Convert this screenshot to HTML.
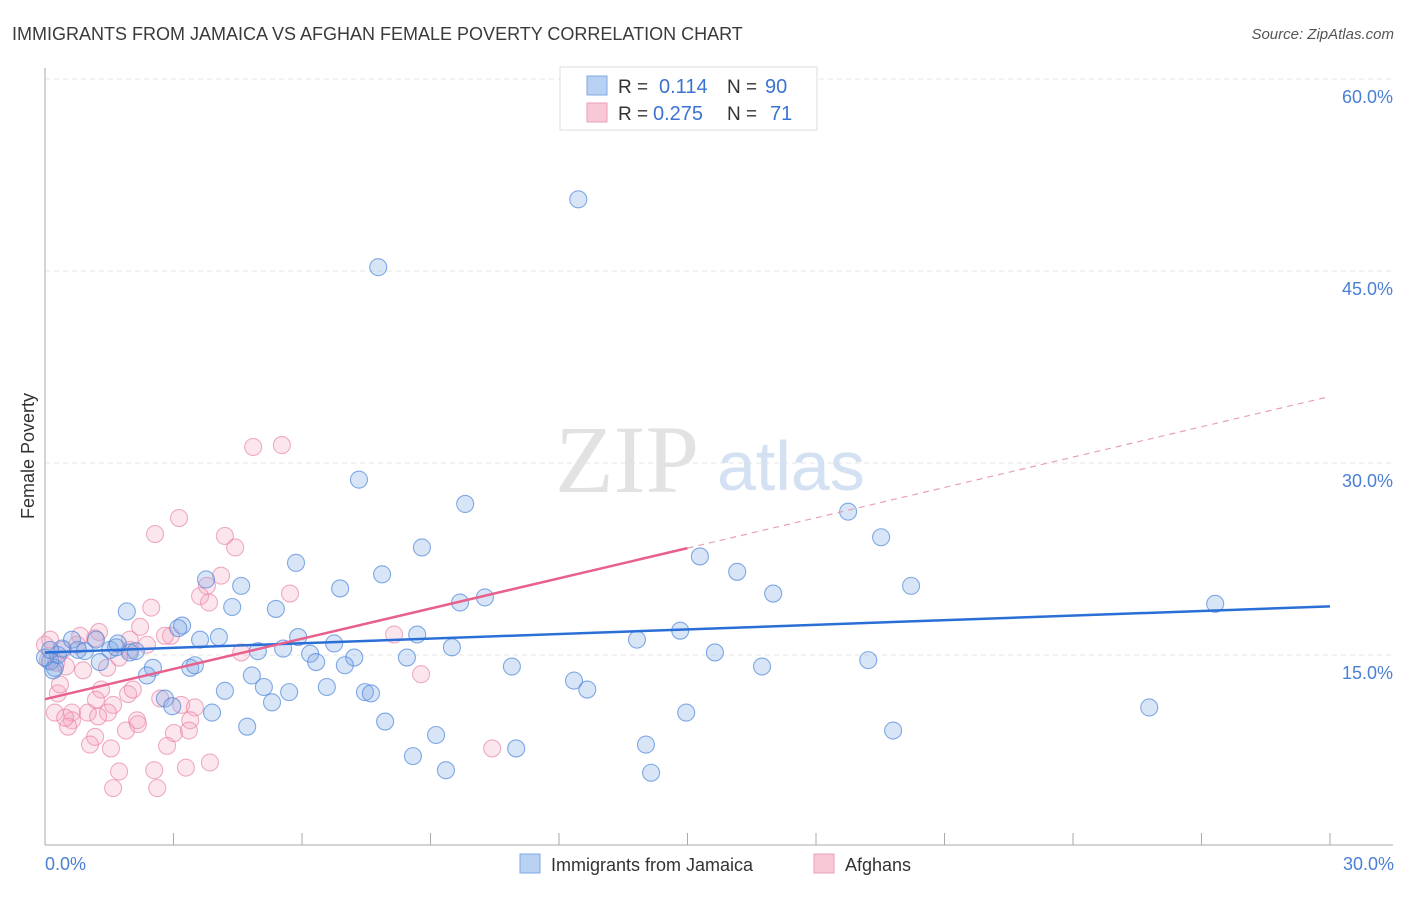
<!DOCTYPE html>
<html><head><meta charset="utf-8"><style>
body{margin:0;background:#fff;font-family:"Liberation Sans",sans-serif;}
svg text{font-family:"Liberation Sans",sans-serif;}
</style></head><body>
<svg id="chart" width="1406" height="892" xmlns="http://www.w3.org/2000/svg">
<text x="12" y="40" font-size="18" fill="#3a3a3a">IMMIGRANTS FROM JAMAICA VS AFGHAN FEMALE POVERTY CORRELATION CHART</text>
<text x="1394" y="39" font-size="15" fill="#555" font-style="italic" text-anchor="end">Source: ZipAtlas.com</text>
<g id="grid"></g>
<text x="555" y="492" font-size="96" fill="#e2e2e2" style="font-family:'Liberation Serif',serif">ZIP</text>
<text x="717" y="490" font-size="70" fill="#d3e1f3">atlas</text>
<g id="axes"></g>
<g id="pts"></g>
<g id="lines"></g>
<text transform="translate(34,456) rotate(-90)" font-size="18" fill="#333" text-anchor="middle">Female Poverty</text>
<text x="45" y="870" font-size="18" fill="#4a7fd4">0.0%</text>
<text x="1394" y="870" font-size="18" fill="#4a7fd4" text-anchor="end">30.0%</text>
<g>
<rect x="560" y="67" width="257" height="63" fill="#fff" stroke="#ddd"/>
<rect x="587" y="76" width="20" height="19" fill="#b8d0f2" stroke="#7fa8e0"/>
<rect x="587" y="103" width="20" height="19" fill="#f9c8d6" stroke="#eaa0b8"/>
<text x="618" y="93" font-size="19" fill="#333">R =</text>
<text x="659" y="93" font-size="20" fill="#3a74d0">0.114</text>
<text x="727" y="93" font-size="19" fill="#333">N =</text>
<text x="765" y="93" font-size="20" fill="#3a74d0">90</text>
<text x="618" y="120" font-size="19" fill="#333">R =</text>
<text x="653" y="120" font-size="20" fill="#3a74d0">0.275</text>
<text x="727" y="120" font-size="19" fill="#333">N =</text>
<text x="770" y="120" font-size="20" fill="#3a74d0">71</text>
</g>
<g>
<rect x="520" y="854" width="20" height="19" fill="#b8d0f2" stroke="#7fa8e0"/>
<text x="551" y="871" font-size="18" fill="#333">Immigrants from Jamaica</text>
<rect x="814" y="854" width="20" height="19" fill="#f9c8d6" stroke="#eaa0b8"/>
<text x="845" y="871" font-size="18" fill="#333">Afghans</text>
</g>
</svg>
<script>
const yTicks=[15,30,45,60];
const yTickLabels=["15.0%","30.0%","45.0%","60.0%"];
const xTicks=[0,3,6,9,12,15,18,21,24,27,30];
const jamX=[12.45,7.78,7.33,9.81,8.80,5.86,7.87,6.89,4.58,3.76,4.37,5.39,1.91,3.20,3.11,4.06,3.62,5.91,6.75,8.69,9.50,9.69,10.27,8.45,7.22,7.0,6.19,6.33,4.97,5.56,2.52,2.38,3.39,3.50,4.83,5.11,5.70,6.58,5.30,4.20,2.80,2.97,3.90,4.72,7.47,7.61,7.94,9.13,8.59,9.36,10.9,12.35,12.66,11.0,13.82,14.83,15.29,16.16,17.0,15.64,16.74,14.97,14.03,14.15,18.75,19.52,20.22,19.22,19.8,27.32,25.78,0.23,0.12,0.30,0.40,0.63,0.77,0.93,1.19,1.28,1.52,1.66,1.98,2.12,1.70,0.19,0.0,0.12];
const jamY=[50.6,45.3,28.7,26.8,23.4,22.2,21.3,20.2,20.4,20.9,18.75,18.6,18.4,17.3,17.1,16.4,16.2,16.4,15.9,16.6,15.6,19.1,19.5,14.8,14.8,14.2,15.1,14.45,15.3,15.5,14.0,13.4,14.0,14.2,13.4,12.5,12.1,12.5,11.3,12.2,11.6,11.0,10.5,9.4,12.1,12.0,9.8,8.75,7.1,6.0,14.1,13.0,12.3,7.7,16.2,16.9,22.7,21.5,19.8,15.2,14.1,10.5,8.0,5.8,26.2,24.2,20.4,14.6,9.1,19.0,10.9,14.0,14.5,15.0,15.5,16.2,15.4,15.3,16.2,14.45,15.4,15.6,15.2,15.3,15.9,13.8,14.8,15.4];
const afgX=[4.86,5.53,3.13,2.57,4.20,4.44,4.11,3.78,5.72,3.62,3.83,2.48,2.22,1.98,2.94,2.80,2.38,1.98,1.26,1.17,0.82,0.75,0.42,0,0.12,0.07,0.26,0.49,0.89,1.45,1.73,1.31,0.30,0.35,0.63,0.23,0.63,1.00,1.19,1.59,1.47,1.94,2.05,2.69,3.18,3.50,3.01,3.39,3.36,2.15,2.17,1.89,1.17,1.05,1.54,2.85,0.54,1.73,1.59,2.55,2.62,3.29,3.85,4.58,8.15,8.78,10.44,0.47,1.24];
const afgY=[31.25,31.4,25.7,24.45,24.3,23.4,21.2,20.4,19.8,19.6,19.1,18.7,17.2,16.2,16.5,16.5,15.8,15.4,16.8,16.3,16.5,15.8,15.4,15.8,16.2,14.6,14.4,14.1,13.8,14.0,14.8,12.3,12.0,12.7,10.5,10.5,9.9,10.5,11.5,11.1,10.5,11.95,12.3,11.6,11.1,10.9,8.9,9.9,9.1,9.9,9.6,9.1,8.6,8.0,7.7,7.9,9.4,5.9,4.6,6.0,4.6,6.2,6.6,15.2,16.6,13.5,7.7,10.1,10.2];
const jamTrend=[15.2,18.8];
const afgTrend=[11.55,23.35,35.2];
const afgTrendX=[0,15,30];

const X0=45,X1=1330,Y0=847,PXPER=192/15;
const sx=v=>X0+(X1-X0)*v/30;
const sy=v=>Y0-v*PXPER;
const NS="http://www.w3.org/2000/svg";
function mk(tag,attrs,parent){const e=document.createElementNS(NS,tag);for(const k in attrs)e.setAttribute(k,attrs[k]);parent.appendChild(e);return e;}
const grid=document.getElementById('grid'),axes=document.getElementById('axes'),pts=document.getElementById('pts'),lines=document.getElementById('lines');
yTicks.forEach((t,i)=>{
  const l=mk('line',{x1:45,x2:1393,y1:sy(t),y2:sy(t),stroke:'#e4e4e4','stroke-dasharray':'5,4'},grid);
  
  
  const tx=mk('text',{x:1393,y:sy(t)+24,'font-size':18,fill:'#4a7fd4','text-anchor':'end'},grid);
  tx.textContent=yTickLabels[i];
  
  
});
const ya=mk('line',{x1:45,x2:45,y1:68,y2:845,stroke:'#aaa'},axes);


const xa=mk('line',{x1:45,x2:1393,y1:845,y2:845,stroke:'#aaa'},axes);


xTicks.forEach(t=>{
  const tk=mk('line',{x1:sx(t),x2:sx(t),y1:833,y2:845,stroke:'#aaa'},axes);
  
  
});
function dots(xs,ys,fill,stroke,name){
  xs.forEach((x,i)=>{
    const c=mk('circle',{cx:sx(x),cy:sy(ys[i]),r:8.5,fill:fill,stroke:stroke,'stroke-width':1.1},pts);
    
    
  });
}
dots(afgX,afgY,'rgba(244,165,190,0.28)','rgba(232,130,165,0.65)','afghan-point');
dots(jamX,jamY,'rgba(125,168,230,0.3)','rgba(80,135,220,0.7)','jamaica-point');
const jl=mk('line',{x1:sx(0),y1:sy(jamTrend[0]),x2:sx(30),y2:sy(jamTrend[1]),stroke:'#2a6fd6','stroke-width':2.5},lines);


const al=mk('line',{x1:sx(afgTrendX[0]),y1:sy(afgTrend[0]),x2:sx(afgTrendX[1]),y2:sy(afgTrend[1]),stroke:'#e8608c','stroke-width':2.5},lines);


const ad=mk('line',{x1:sx(afgTrendX[1]),y1:sy(afgTrend[1]),x2:sx(afgTrendX[2]),y2:sy(afgTrend[2]),stroke:'#e8a0b8','stroke-width':1.2,'stroke-dasharray':'6,5'},lines);


</script>
</body></html>
